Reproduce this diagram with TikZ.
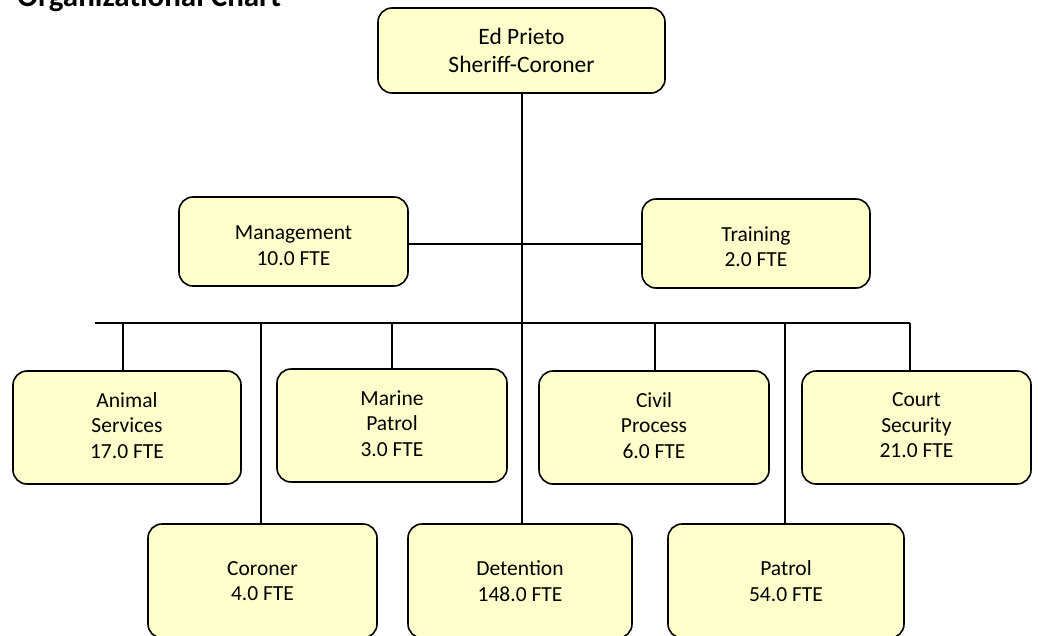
\documentclass[tikz,border=0pt]{standalone}
\usepackage{fontspec}
\setmainfont{Carlito}
\usetikzlibrary{calc}
\definecolor{boxfill}{HTML}{FFFFCC}
\tikzset{
  unitbox/.style={draw=black, line width=1.6pt, fill=boxfill, rounded corners=14pt, inner sep=0pt},
  unittext/.style={align=center, inner sep=0pt, font=\fontsize{21.5}{25.5}\selectfont},
  headtext/.style={align=center, inner sep=0pt, font=\fontsize{23.5}{28}\selectfont},
  link/.style={line width=1.4pt, draw=black}
}
\begin{document}
\begin{tikzpicture}[x=1pt, y=-1pt]
\useasboundingbox (0,0) rectangle (1038,635);

% title
\node[anchor=base west, font=\bfseries\fontsize{31}{36}\selectfont, inner sep=0pt] (title) at (17,6) {Organizational Chart};

% boxes
\node[unitbox, minimum width=287pt, minimum height=85pt] (sheriff) at (521.5,50.5) {};
\node[unitbox, minimum width=229pt, minimum height=89pt] (mgmt) at (293.5,241.5) {};
\node[unitbox, minimum width=228pt, minimum height=89pt] (train) at (756,243.5) {};
\node[unitbox, minimum width=228pt, minimum height=113pt] (animal) at (127,427.5) {};
\node[unitbox, minimum width=230pt, minimum height=113pt] (marine) at (392,425.5) {};
\node[unitbox, minimum width=230pt, minimum height=113pt] (civil) at (654,427.5) {};
\node[unitbox, minimum width=229pt, minimum height=113pt] (court) at (916.5,427.5) {};
\node[unitbox, minimum width=229pt, minimum height=114pt] (coroner) at (262.5,581) {};
\node[unitbox, minimum width=224pt, minimum height=114pt] (detention) at (520,581) {};
\node[unitbox, minimum width=236pt, minimum height=114pt] (patrol) at (786,581) {};

% box texts
\node[headtext] (sheriff-t) at (sheriff.center) {Ed Prieto\\Sheriff-Coroner};
\node[unittext] (mgmt-t) at ([yshift=-4pt]mgmt.center) {Management\\10.0 FTE};
\node[unittext] (train-t) at ([yshift=-3pt]train.center) {Training\\2.0 FTE};
\node[unittext] (animal-t) at ([yshift=2pt]animal.center) {Animal\\Services\\17.0 FTE};
\node[unittext] (marine-t) at ([yshift=2pt]marine.center) {Marine\\Patrol\\3.0 FTE};
\node[unittext] (civil-t) at ([yshift=2pt]civil.center) {Civil\\Process\\6.0 FTE};
\node[unittext] (court-t) at ([yshift=2pt]court.center) {Court\\Security\\21.0 FTE};
\node[unittext] (coroner-t) at (coroner.center) {Coroner\\4.0 FTE};
\node[unittext] (detention-t) at (detention.center) {Detention\\148.0 FTE};
\node[unittext] (patrol-t) at (patrol.center) {Patrol\\54.0 FTE};

% bus coordinates
\coordinate (busL) at (95,323);
\coordinate (busR) at (910,323);
\coordinate (trunkMid) at (522,244);

% trunk
\draw[link] (sheriff.south -| 522,0) -- (detention.north -| 522,0);
% staff line
\draw[link] (mgmt.east |- trunkMid) -- (train.west |- trunkMid);
% bus
\draw[link] (busL) -- (busR);
% drops
\draw[link] (busL -| 123,0) -- (animal.north -| 123,0);
\draw[link] (busL -| 261,0) -- (coroner.north -| 261,0);
\draw[link] (busL -| 392,0) -- (marine.north -| 392,0);
\draw[link] (busL -| 655,0) -- (civil.north -| 655,0);
\draw[link] (busL -| 785,0) -- (patrol.north -| 785,0);
\draw[link] (busR) -- (court.north -| 910,0);
\end{tikzpicture}
\end{document}
